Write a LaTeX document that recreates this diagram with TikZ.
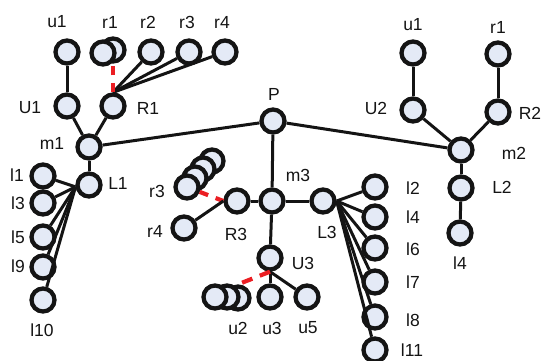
\documentclass[tikz,border=0pt]{standalone}
\usepackage{fontspec}
\setmainfont{Liberation Sans}
\definecolor{vfill}{RGB}{228,234,246}
\definecolor{vline}{RGB}{20,20,20}
\definecolor{dred}{RGB}{235,30,35}
\tikzset{
  vtx/.style={circle,draw=vline,fill=vfill,line width=4.3pt,minimum size=23pt,inner sep=0pt},
  lbl/.style={inner sep=0pt,font=\fontsize{17.5}{20}\selectfont,text=vline},
  edge/.style={draw=vline,line width=3pt},
  redge/.style={draw=dred,line width=4.2pt,dash pattern=on 9pt off 8pt}
}
\begin{document}
\begin{tikzpicture}[x=1pt,y=-1pt]
\useasboundingbox (0,0) rectangle (542,360);
% top-left group
\node[vtx] (u1L) at (67,52) {};
\node[vtx] (r1b) at (113,50) {};
\node[vtx] (r1a) at (103,53) {};
\node[vtx] (r2t) at (151,52) {};
\node[vtx] (r3t) at (189,52) {};
\node[vtx] (r4t) at (225,52) {};
\node[vtx] (U1) at (67,106) {};
\node[vtx] (R1) at (113,106) {};
\node[vtx] (m1) at (89,147) {};
\node[vtx] (P) at (273,121) {};
% right group
\node[vtx] (u1R) at (413,53) {};
\node[vtx] (r1R) at (498,54) {};
\node[vtx] (U2) at (413,110) {};
\node[vtx] (R2) at (498,112) {};
\node[vtx] (m2) at (461,150) {};
\node[vtx] (L2) at (461,188) {};
\node[vtx] (l4R) at (460,233) {};
% middle group
\node[vtx] (m3) at (272,201) {};
\node[vtx] (R3) at (237,201) {};
\node[vtx] (L3) at (323,201) {};
\node[vtx] (r3d) at (212,161) {};
\node[vtx] (r3c) at (203,169) {};
\node[vtx] (r3b) at (195,178) {};
\node[vtx] (r3a) at (187,187) {};
\node[vtx] (r4m) at (184,228) {};
\node[vtx] (U3) at (270,258) {};
\node[vtx] (u2c) at (238,298) {};
\node[vtx] (u2b) at (227,297) {};
\node[vtx] (u2a) at (215,297) {};
\node[vtx] (u3) at (270,297) {};
\node[vtx] (u5) at (307,297) {};
% L1 group
\node[vtx] (L1) at (89,185) {};
\node[vtx] (l1) at (43,176) {};
\node[vtx] (l3) at (43,203) {};
\node[vtx] (l5) at (43,237) {};
\node[vtx] (l9) at (43,267) {};
\node[vtx] (l10) at (43,300) {};
% L3 group
\node[vtx] (l2) at (375,187) {};
\node[vtx] (l4) at (375,217) {};
\node[vtx] (l6) at (375,248) {};
\node[vtx] (l7) at (375,282) {};
\node[vtx] (l8) at (375,317) {};
\node[vtx] (l11) at (375,350) {};
% edges
\path[edge] (u1L) -- (U1);
\path[edge] (U1) -- (m1);
\path[edge] (R1) -- (m1);
\path[edge] (R1.north) -- (r2t);
\path[edge] (R1.north) -- (r3t);
\path[edge] (R1.north) -- (r4t);
\path[redge] (R1.north) -- (r1b);
\path[edge] (m1) -- (P);
\path[edge] (m1) -- (L1);
\path[edge] (P) -- (m2);
\path[edge] (P) -- (m3);
\path[edge] (u1R) -- (U2);
\path[edge] (r1R) -- (R2);
\path[edge] (U2) -- (m2);
\path[edge] (R2) -- (m2);
\path[edge] (m2) -- (L2);
\path[edge] (L2) -- (l4R);
\path[edge] (m3) -- (R3);
\path[edge] (m3) -- (L3);
\path[edge] (m3) -- (U3);
\path[redge] (r3a) -- (R3.west);
\path[edge] (R3.west) -- (r4m);
\path[edge] (U3) -- (u3);
\path[edge] (U3.south) -- (u5);
\path[redge, dash pattern=on 11pt off 8pt] (U3.south) -- (u2c.north);
\foreach \n in {l1,l3,l5,l9,l10} {\path[edge] (L1.188) -- (\n);}
\foreach \n in {l2,l4,l6,l7,l8,l11} {\path[edge] (L3.east) -- (\n);}
% labels
\node[lbl] (tu1L) at (57,22) {u1};
\node[lbl] (tr1) at (110,22) {r1};
\node[lbl] (tr2) at (148,22) {r2};
\node[lbl] (tr3) at (187,22) {r3};
\node[lbl] (tr4) at (222,22) {r4};
\node[lbl] (tU1) at (30,108) {U1};
\node[lbl] (tR1) at (148,108) {R1};
\node[lbl] (tm1) at (52,143) {m1};
\node[lbl] (tP) at (274,94) {P};
\node[lbl] (tu1R) at (413,25) {u1};
\node[lbl] (tr1R) at (498,27) {r1};
\node[lbl] (tU2) at (376,108) {U2};
\node[lbl] (tR2) at (530,113) {R2};
\node[lbl] (tm2) at (514,153) {m2};
\node[lbl] (tL2) at (502,187) {L2};
\node[lbl] (tl4R) at (460,263) {l4};
\node[lbl] (tm3) at (298,175) {m3};
\node[lbl] (tL3) at (327,232) {L3};
\node[lbl] (tR3) at (236,234) {R3};
\node[lbl] (tr3m) at (157,191) {r3};
\node[lbl] (tr4m) at (155,231) {r4};
\node[lbl] (tU3) at (303,263) {U3};
\node[lbl] (tu2) at (238,328) {u2};
\node[lbl] (tu3) at (272,328) {u3};
\node[lbl] (tu5) at (308,328) {u5};
\node[lbl] (tL1) at (118,183) {L1};
\node[lbl] (tl1) at (17,175) {l1};
\node[lbl] (tl3) at (18,203) {l3};
\node[lbl] (tl5) at (18,237) {l5};
\node[lbl] (tl9) at (18,266) {l9};
\node[lbl] (tl10) at (42,330) {l10};
\node[lbl] (tl2) at (413,188) {l2};
\node[lbl] (tl4) at (413,217) {l4};
\node[lbl] (tl6) at (413,249) {l6};
\node[lbl] (tl7) at (413,282) {l7};
\node[lbl] (tl8) at (413,320) {l8};
\node[lbl] (tl11) at (412,350) {l11};
\end{tikzpicture}
\end{document}
